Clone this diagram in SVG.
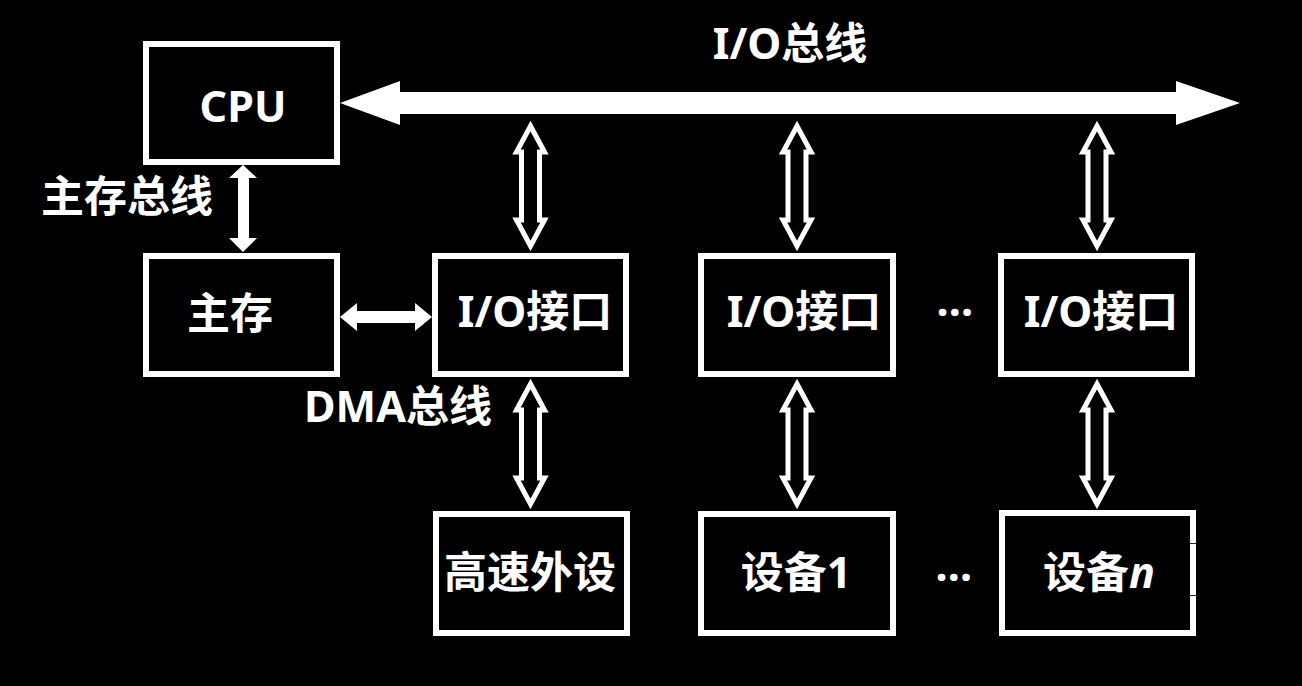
<svg xmlns="http://www.w3.org/2000/svg" width="1302" height="686" viewBox="0 0 1302 686">
<style>
.box{fill:#000;stroke:#fff;stroke-width:6}
.t{fill:#fff;font-family:"Noto Sans","Noto Sans CJK SC",sans-serif;font-weight:bold;font-size:43px;text-anchor:middle}
.solid{fill:#fff;stroke:none}
.hollow{fill:#000;stroke:#fff;stroke-width:5;stroke-linejoin:miter}
</style>
<defs>
<path id="dbl" d="M0,0 L14,26 L9,26 L9,94 L14,94 L0,120 L-14,94 L-9,94 L-9,26 L-14,26 Z"/>
</defs>
<rect width="1302" height="686" fill="#000"/>
<g id="connectors">
<polygon id="io-bus" class="solid" points="340,103 400,81 400,92 1176,92 1176,81 1240,103 1176,125 1176,114 400,114 400,125"/>
<polygon id="mem-bus" class="solid" points="243,165 257,178 249,178 249,238 257,238 243,252 229,238 238,238 238,178 229,178"/>
<polygon id="dma-bus" class="solid" points="340,317 357,303 357,311 415,311 415,303 432,317 415,331 415,323 357,323 357,331"/>
<use href="#dbl" class="hollow" transform="translate(530.5,126)"/>
<use href="#dbl" class="hollow" transform="translate(797,126)"/>
<use href="#dbl" class="hollow" transform="translate(1097,126)"/>
<use href="#dbl" class="hollow" transform="translate(530.5,384)"/>
<use href="#dbl" class="hollow" transform="translate(797,384)"/>
<use href="#dbl" class="hollow" transform="translate(1097,384)"/>
</g>
<g id="labels">
<text class="t" x="790" y="59">I/O总线</text>
<text class="t" x="127" y="212">主存总线</text>
<text class="t" x="398" y="422">DMA总线</text>
<text class="t" x="955" y="316">…</text>
<text class="t" x="954" y="581">…</text>
</g>
<g id="cpu"><rect class="box" x="146" y="44" width="191" height="118"/><text class="t" x="243" y="122">CPU</text></g>
<g id="mem"><rect class="box" x="146" y="256" width="191" height="118"/><text class="t" x="230" y="329">主存</text></g>
<g id="io1"><rect class="box" x="435" y="256" width="191" height="118"/><text class="t" x="535" y="327">I/O接口</text></g>
<g id="io2"><rect class="box" x="701" y="256" width="192" height="118"/><text class="t" x="804" y="327">I/O接口</text></g>
<g id="io3"><rect class="box" x="1001" y="256" width="191" height="118"/><text class="t" x="1101" y="327">I/O接口</text></g>
<g id="hs"><rect class="box" x="436" y="514" width="191" height="119"/><text class="t" x="530" y="588">高速外设</text></g>
<g id="dev1"><rect class="box" x="701" y="514" width="192" height="119"/><text class="t" x="796" y="588">设备1</text></g>
<g id="devn"><rect class="box" x="1002" y="513" width="191" height="120"/><text class="t" x="1099" y="588">设备<tspan font-style="italic">n</tspan></text>
<line x1="1189" y1="543.5" x2="1197" y2="543.5" stroke="#222" stroke-width="1"/>
<line x1="1189" y1="595.5" x2="1197" y2="595.5" stroke="#222" stroke-width="1"/></g>
</svg>
